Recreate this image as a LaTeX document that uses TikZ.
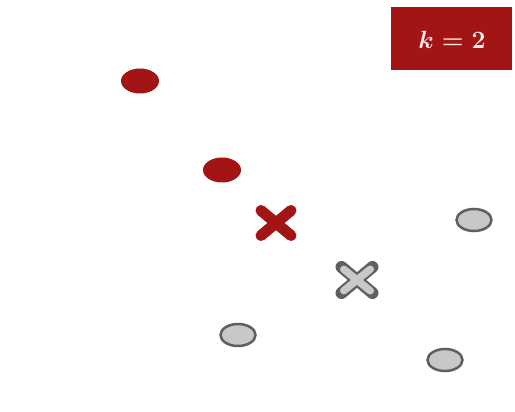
\documentclass[tikz,border=0pt]{standalone}
\usepackage{tikz}
\usetikzlibrary{shapes.geometric,shapes.misc}
\definecolor{knnred}{RGB}{163,20,20}
\definecolor{knngray}{RGB}{200,200,200}
\definecolor{knnedge}{RGB}{95,95,95}

\tikzset{
    reddot/.style={ellipse,fill=knnred,minimum width=38pt,minimum height=25pt,inner sep=0pt},
    graydot/.style={ellipse,fill=knngray,draw=knnedge,line width=2.5pt,minimum width=35pt,minimum height=22pt,inner sep=0pt},
    crossbase/.style={cross out,minimum width=19pt,minimum height=14pt,inner sep=0pt,line cap=round},
    redcross/.style={crossbase,draw=knnred,line width=11pt},
    grayout/.style={crossbase,draw=knnedge,line width=12pt},
    grayin/.style={crossbase,draw=knngray,line width=7.5pt}
}

\begin{document}
\begin{tikzpicture}[x=1pt,y=-1pt]
    % Frame
    \useasboundingbox (0,0) rectangle (515,412);
    \fill[white] (0,0) rectangle (515,412);

    % Label box
    \fill[knnred] (391,7) rectangle (512,70);
    \node[text=white!92!red,font=\fontsize{27}{30}\selectfont\boldmath] (klabel) at (452,40) {$k = 2$};

    % Red points
    \node[reddot] (r1) at (140,81) {};
    \node[reddot] (r2) at (222,170) {};

    % Gray points
    \node[graydot] (g1) at (474,220) {};
    \node[graydot] (g2) at (238,335) {};
    \node[graydot] (g3) at (445,360) {};

    % Centroids
    \node[redcross] (c1) at (276,223) {};
    \node[grayout] (c2) at (357,280) {};
    \node[grayin] at (c2) {};
\end{tikzpicture}
\end{document}
